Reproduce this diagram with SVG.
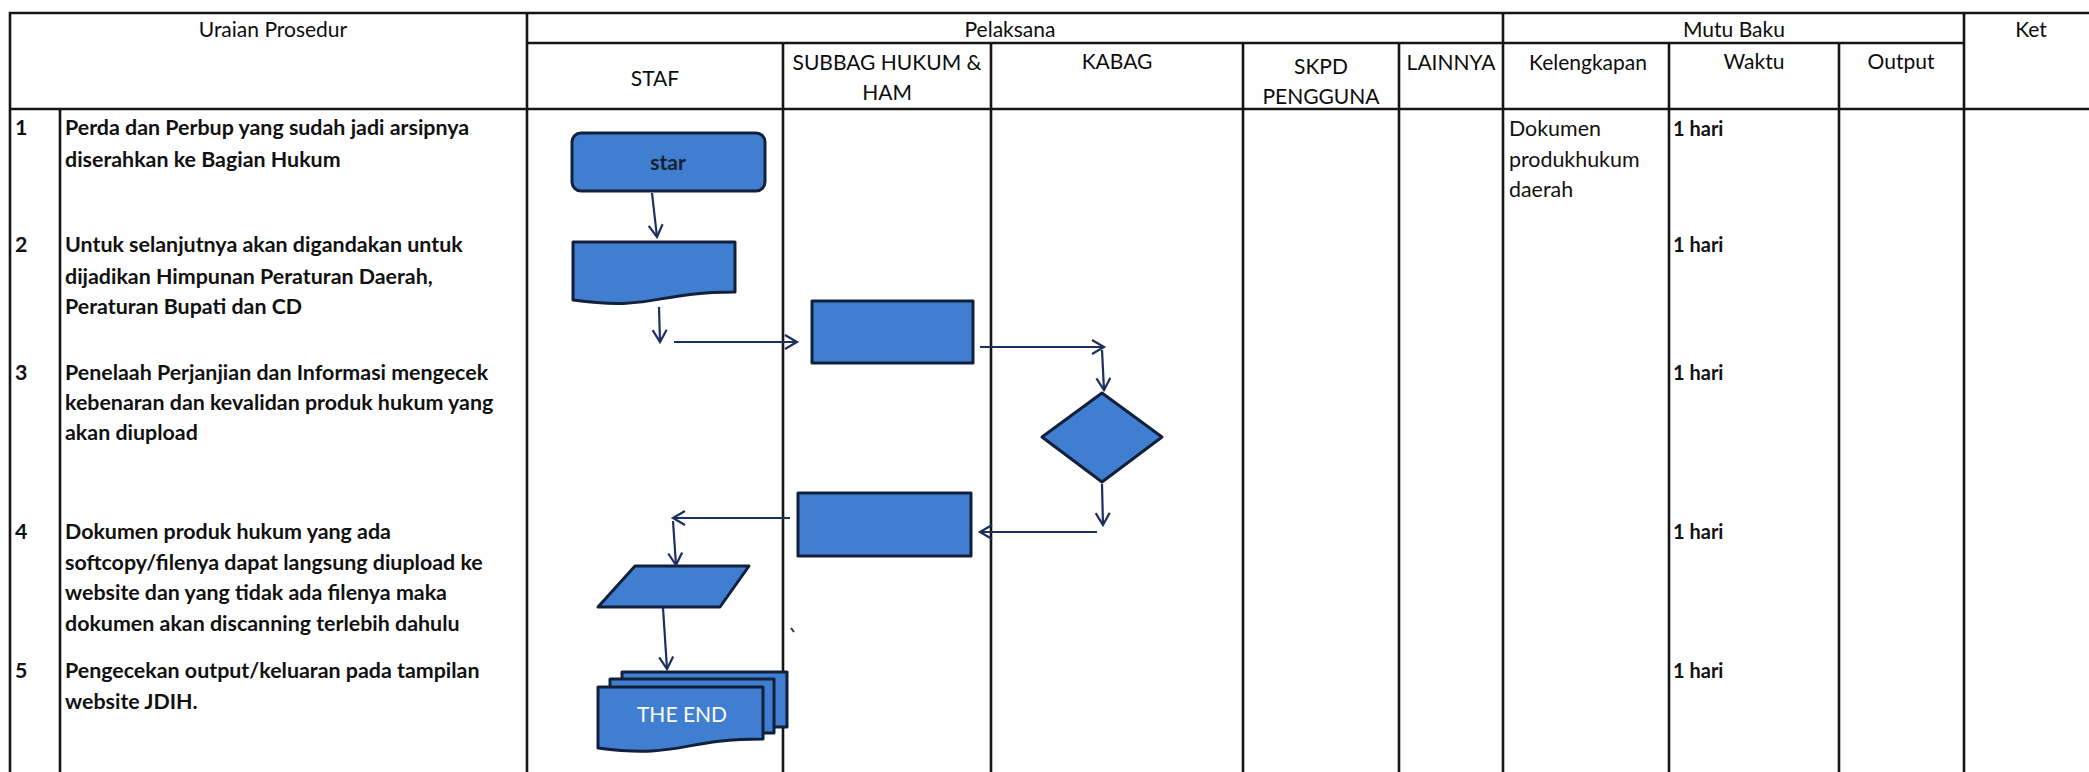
<svg xmlns="http://www.w3.org/2000/svg" width="2089" height="772" viewBox="0 0 2089 772">
<defs>
<style>
.grid{stroke:#141414;stroke-width:2.6;fill:none;stroke-linecap:square}
.hd{font-family:Lato,"Liberation Sans",sans-serif;font-size:21px;fill:#0d0d0d;text-anchor:middle}
.bd{font-family:Lato,"Liberation Sans",sans-serif;font-size:21.4px;font-weight:bold;fill:#111}
.rg{font-family:Lato,"Liberation Sans",sans-serif;font-size:21.4px;fill:#111}
.wk{font-family:Lato,"Liberation Sans",sans-serif;font-size:20px;font-weight:bold;fill:#111}
.shape{fill:#3f7ed1;stroke:#12203a;stroke-width:3;stroke-linejoin:round}
.conn{stroke:#1c2f5e;stroke-width:2.2;fill:none}
.lbl{font-family:Lato,"Liberation Sans",sans-serif;font-size:21px;text-anchor:middle}
</style>
<marker id="ah" markerUnits="userSpaceOnUse" markerWidth="16" markerHeight="18" refX="13" refY="8" orient="auto">
<path d="M1,1 L13,8 L1,15" fill="none" stroke="#1c2f5e" stroke-width="2.2"/>
</marker>
</defs>
<rect width="2089" height="772" fill="#ffffff"/>
<g id="table">
<path class="grid" d="M10,13 H2089 M527,43 H1964 M10,109 H2089 M10,13 V772 M60,109 V772 M527,13 V772 M783,43 V772 M991,43 V772 M1243,43 V772 M1399,43 V772 M1503,13 V772 M1669,43 V772 M1839,43 V772 M1964,13 V772"/>
<text class="hd" x="273" y="37">Uraian Prosedur</text>
<text class="hd" x="1010" y="37">Pelaksana</text>
<text class="hd" x="1734" y="37">Mutu Baku</text>
<text class="hd" x="2031" y="37">Ket</text>
<text class="hd" x="655" y="86">STAF</text>
<text class="hd" x="887" y="70">SUBBAG HUKUM &amp;</text>
<text class="hd" x="887" y="100">HAM</text>
<text class="hd" x="1117" y="69">KABAG</text>
<text class="hd" x="1321" y="74">SKPD</text>
<text class="hd" x="1321" y="104">PENGGUNA</text>
<text class="hd" x="1451" y="70">LAINNYA</text>
<text class="hd" x="1588" y="70">Kelengkapan</text>
<text class="hd" x="1754" y="69">Waktu</text>
<text class="hd" x="1901" y="69">Output</text>
</g>
<g id="rows">
<text class="bd" x="15" y="135">1</text>
<text class="bd" x="65" y="135">Perda dan Perbup yang sudah jadi arsipnya</text>
<text class="bd" x="65" y="167">diserahkan ke Bagian Hukum</text>
<text class="bd" x="15" y="252">2</text>
<text class="bd" x="65" y="252">Untuk selanjutnya akan digandakan untuk</text>
<text class="bd" x="65" y="284">dijadikan Himpunan Peraturan Daerah,</text>
<text class="bd" x="65" y="314">Peraturan Bupati dan CD</text>
<text class="bd" x="15" y="380">3</text>
<text class="bd" x="65" y="380">Penelaah Perjanjian dan Informasi mengecek</text>
<text class="bd" x="65" y="410">kebenaran dan kevalidan produk hukum yang</text>
<text class="bd" x="65" y="440">akan diupload</text>
<text class="bd" x="15" y="539">4</text>
<text class="bd" x="65" y="539">Dokumen produk hukum yang ada</text>
<text class="bd" x="65" y="570">softcopy/filenya dapat langsung diupload ke</text>
<text class="bd" x="65" y="600">website dan yang tidak ada filenya maka</text>
<text class="bd" x="65" y="631">dokumen akan discanning terlebih dahulu</text>
<text class="bd" x="15" y="678">5</text>
<text class="bd" x="65" y="678">Pengecekan output/keluaran pada tampilan</text>
<text class="bd" x="65" y="709">website JDIH.</text>
<text class="rg" x="1509" y="136">Dokumen</text>
<text class="rg" x="1509" y="167">produkhukum</text>
<text class="rg" x="1509" y="197">daerah</text>
<text class="wk" x="1673" y="136">1 hari</text>
<text class="wk" x="1673" y="252">1 hari</text>
<text class="wk" x="1673" y="380">1 hari</text>
<text class="wk" x="1673" y="539">1 hari</text>
<text class="wk" x="1673" y="678">1 hari</text>
</g>
<g id="n-start">
<rect class="shape" x="572" y="133" width="193" height="58" rx="9"/>
<text class="lbl" x="668" y="170" fill="#16202e" font-weight="bold">star</text>
</g>
<g id="n-document">
<path class="shape" d="M573,242 H735 V292 C654,292 654,311 573,300 Z"/>
</g>
<g id="n-subbag1">
<rect class="shape" x="812" y="301" width="161" height="62"/>
</g>
<g id="n-decision">
<path class="shape" d="M1102,393 L1162,437 L1102,482 L1042,437 Z"/>
</g>
<g id="n-subbag2">
<rect class="shape" x="798" y="493" width="173" height="63"/>
</g>
<g id="n-input">
<path class="shape" d="M635,566 H749 L720,607 H598 Z"/>
</g>
<g id="n-end">
<rect class="shape" x="622" y="672" width="165" height="55"/>
<rect class="shape" x="610" y="679" width="164" height="54"/>
<path class="shape" d="M598,687 H763 V739 C680,739 680,759 598,748 Z"/>
<text class="lbl" x="682" y="722" fill="#ffffff">THE END</text>
</g>
<g id="connectors">
<path class="conn" marker-end="url(#ah)" d="M652,193 L657,237"/>
<path class="conn" marker-end="url(#ah)" d="M659,307 L660,342"/>
<path class="conn" marker-end="url(#ah)" d="M674,342 H797"/>
<path class="conn" marker-end="url(#ah)" d="M980,347 H1104"/>
<path class="conn" marker-end="url(#ah)" d="M1102,350 L1104,390"/>
<path class="conn" marker-end="url(#ah)" d="M1102,484 L1103,525"/>
<path class="conn" marker-end="url(#ah)" d="M1097,532 H980"/>
<path class="conn" marker-end="url(#ah)" d="M790,518 H673"/>
<path class="conn" marker-end="url(#ah)" d="M673,521 L676,565"/>
<path class="conn" marker-end="url(#ah)" d="M663,608 L667,669"/>
</g>
<path d="M791,628 L794,632" stroke="#333" stroke-width="2"/>
</svg>
